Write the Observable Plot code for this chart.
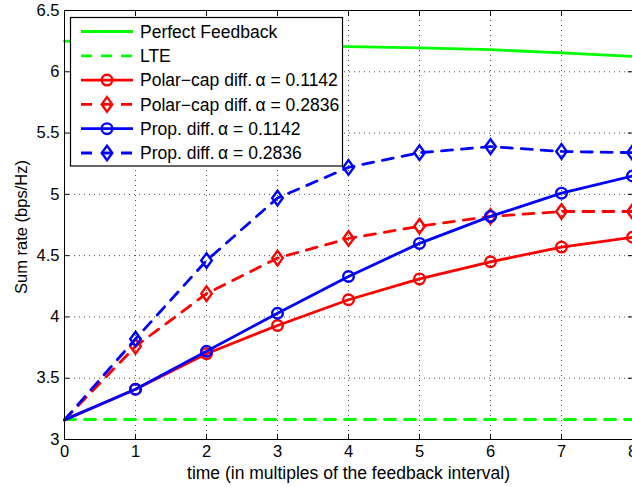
<!DOCTYPE html>
<html>
<head>
<meta charset="utf-8">
<script src="https://cdn.jsdelivr.net/npm/d3@7"></script>
<script src="https://cdn.jsdelivr.net/npm/@observablehq/plot@0.6"></script>
<style>
html, body { margin: 0; padding: 0; overflow: hidden; background: #fff; }
#chart svg { max-width: none !important; width: 640px !important; height: 487px !important; }
</style>
</head>
<body>
<div id="chart"></div>
<script>
// ---- data ----
const times = [0, 1, 2, 3, 4, 5, 6, 7, 8];
const perfectFeedback = [6.25, 6.24, 6.23, 6.215, 6.205, 6.195, 6.18, 6.155, 6.125];
const lte = [3.163, 3.163, 3.163, 3.163, 3.163, 3.163, 3.163, 3.163, 3.163];
const polarCap1142 = [3.16, 3.41, 3.70, 3.93, 4.14, 4.31, 4.45, 4.57, 4.65];
const polarCap2836 = [3.16, 3.76, 4.19, 4.48, 4.64, 4.74, 4.82, 4.86, 4.86];
const prop1142 = [3.16, 3.41, 3.72, 4.03, 4.33, 4.60, 4.82, 5.01, 5.15];
const prop2836 = [3.16, 3.82, 4.46, 4.97, 5.22, 5.34, 5.39, 5.35, 5.34];
const xTicks = [0, 1, 2, 3, 4, 5, 6, 7, 8];
const yTicks = [3, 3.5, 4, 4.5, 5, 5.5, 6, 6.5];
const xLabel = "time (in multiples of the feedback interval)";
const yLabel = "Sum rate (bps/Hz)";

const series = [
  {name: "Perfect Feedback", values: perfectFeedback, color: "#00ff00", dash: null, marker: null},
  {name: "LTE", values: lte, color: "#00ff00", dash: "11,9", marker: null},
  {name: "Polar\u2212cap diff.\u2009\u03b1 = 0.1142", values: polarCap1142, color: "#ff0000", dash: null, marker: "circle"},
  {name: "Polar\u2212cap diff.\u2009\u03b1 = 0.2836", values: polarCap2836, color: "#ff0000", dash: "11,9", marker: "diamond"},
  {name: "Prop. diff.\u2009\u03b1 = 0.1142", values: prop1142, color: "#0000ff", dash: null, marker: "circle"},
  {name: "Prop. diff.\u2009\u03b1 = 0.2836", values: prop2836, color: "#0000ff", dash: "11,9", marker: "diamond"}
];

const tallDiamond = {
  draw(ctx) {
    const w = 5.3, h = 7.3;
    ctx.moveTo(0, -h); ctx.lineTo(w, 0); ctx.lineTo(0, h); ctx.lineTo(-w, 0); ctx.closePath();
  }
};

const FONT = "'Liberation Sans', Arial, Helvetica, sans-serif";
const FS = 16.5;
const FS_LEGEND = 17.5;
const FS_XLABEL = 17.5;
const LW = 2.8;

const marks = [
  Plot.gridX(xTicks, {stroke: "#000", strokeOpacity: 0.7, strokeDasharray: "1,4"}),
  Plot.gridY(yTicks, {stroke: "#000", strokeOpacity: 0.7, strokeDasharray: "1,4"}),
];
for (const s of series) {
  const data = times.map((t, i) => ({t, v: s.values[i]}));
  marks.push(Plot.line(data, {x: "t", y: "v", stroke: s.color, strokeWidth: LW, strokeDasharray: s.dash, strokeLinejoin: "miter"}));
  if (s.marker) {
    const md = data.filter(d => d.t > 0);
    marks.push(Plot.dot(md, {x: "t", y: "v", r: 5.3, stroke: s.color, fill: "none", strokeWidth: 2.4,
      symbol: s.marker === "circle" ? "circle" : tallDiamond}));
  }
}
marks.push(
  Plot.frame({stroke: "#000", strokeWidth: 1}),
  Plot.axisX(xTicks, {anchor: "bottom", tickSize: 0, tickPadding: 6, tickFormat: d => String(d), label: null, fontSize: FS}),
  Plot.axisX(xTicks, {anchor: "bottom", tickSize: -5, tickFormat: () => "", label: null}),
  Plot.axisX(xTicks, {anchor: "top", tickSize: -5, tickFormat: () => "", label: null}),
  Plot.axisY(yTicks, {anchor: "left", tickSize: 0, tickPadding: 5, tickFormat: d => String(d), label: null, fontSize: FS}),
  Plot.axisY(yTicks, {anchor: "left", tickSize: -5, tickFormat: () => "", label: null}),
  Plot.axisY(yTicks, {anchor: "right", tickSize: -5, tickFormat: () => "", label: null}),
  Plot.text([xLabel], {frameAnchor: "bottom", dy: 34, lineAnchor: "middle", textAnchor: "middle", fontSize: FS_XLABEL, text: d => d}),
  Plot.text([yLabel], {frameAnchor: "left", dx: -43, dy: 2, rotate: -90, lineAnchor: "middle", textAnchor: "middle", fontSize: FS, text: d => d})
);

const svg = Plot.plot({
  width: 640,
  height: 487,
  marginLeft: 64,
  marginRight: 8,
  marginTop: 10,
  marginBottom: 48,
  style: {fontFamily: FONT, fontSize: FS + "px", color: "#000", background: "#fff", overflow: "visible", maxWidth: "none"},
  x: {domain: [0, 8]},
  y: {domain: [3, 6.5]},
  marks
});

// legend (drawn inside the axes, top-left)
const g = d3.select(svg).append("g").attr("class", "legend").attr("text-anchor", "start");
const lx = 70.5, ly = 17.5, lw = 272, lh = 148.5;
g.append("rect").attr("x", lx).attr("y", ly).attr("width", lw).attr("height", lh)
  .attr("fill", "#fff").attr("stroke", "#000").attr("stroke-width", 1.2);
series.forEach((s, i) => {
  const cy = 31.5 + i * 24.3;
  g.append("line").attr("x1", 81).attr("x2", 133).attr("y1", cy).attr("y2", cy)
    .attr("stroke", s.color).attr("stroke-width", LW).attr("stroke-dasharray", s.dash);
  if (s.marker === "circle") {
    g.append("circle").attr("cx", 107).attr("cy", cy).attr("r", 5.3)
      .attr("fill", "none").attr("stroke", s.color).attr("stroke-width", 2.4);
  } else if (s.marker === "diamond") {
    g.append("path").attr("d", `M107,${cy - 7.3}L112.3,${cy}L107,${cy + 7.3}L101.7,${cy}Z`)
      .attr("fill", "none").attr("stroke", s.color).attr("stroke-width", 2.4);
  }
  g.append("text").attr("x", 140).attr("y", cy).attr("dy", "0.35em").attr("text-anchor", "start")
    .attr("font-family", FONT).attr("font-size", FS_LEGEND).attr("fill", "#000").text(s.name);
});

document.getElementById("chart").appendChild(svg);
</script>
</body>
</html>
